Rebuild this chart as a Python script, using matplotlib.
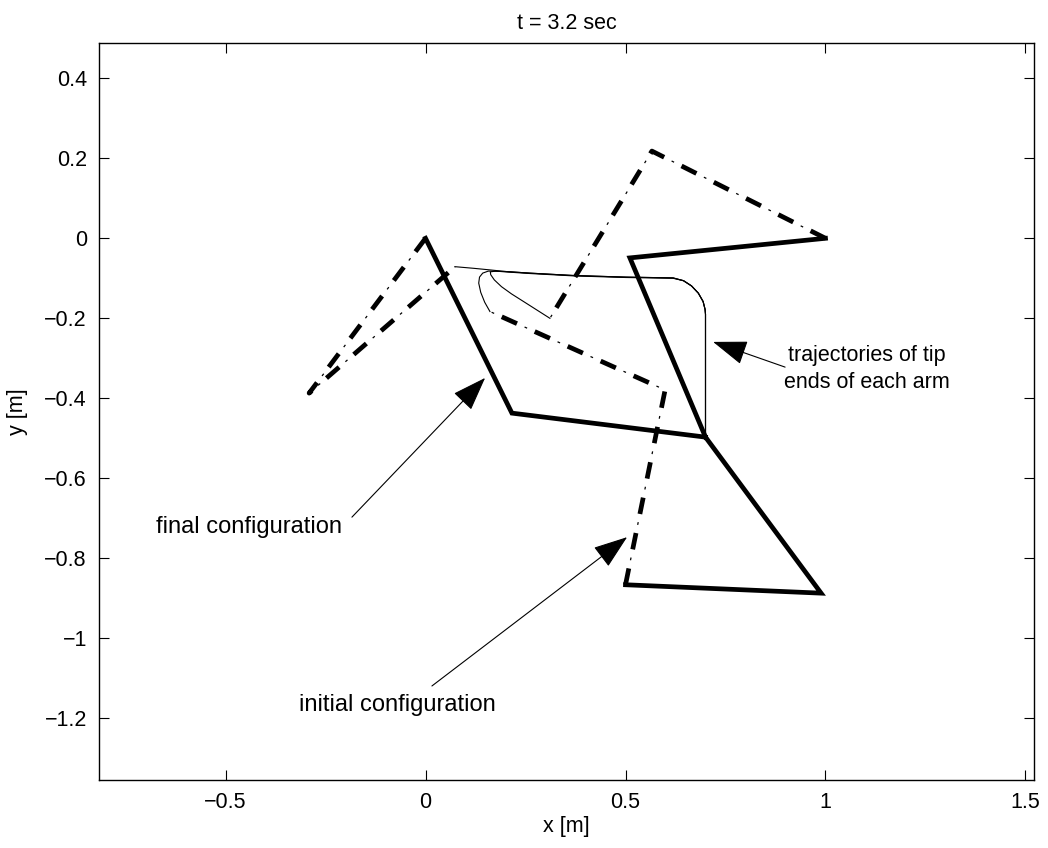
import numpy as np
import matplotlib
matplotlib.use('Agg')
import matplotlib.pyplot as plt
from matplotlib.ticker import FuncFormatter

# arm configurations (base, elbow, tip) for the three arms
init_x = [[0.0, -0.291, 0.074], [1.0, 0.566, 0.311], [0.5, 0.599, 0.161]]
init_y = [[0.0, -0.387, -0.071], [0.0, 0.218, -0.200], [-0.866, -0.379, -0.183]]
final_x = [[0.0, 0.216, 0.700], [1.0, 0.511, 0.700], [0.5, 0.989, 0.700]]
final_y = [[0.0, -0.437, -0.497], [0.0, -0.049, -0.497], [-0.866, -0.887, -0.497]]

# tip trajectories
traj1_x = [0.074, 0.12, 0.161, 0.20, 0.26, 0.37, 0.50, 0.619, 0.645, 0.665, 0.682, 0.694, 0.699, 0.700, 0.700]
traj1_y = [-0.071, -0.075, -0.079, -0.083, -0.087, -0.093, -0.097, -0.099, -0.106, -0.119, -0.137, -0.158, -0.178, -0.19, -0.497]
traj2_x = [0.311, 0.278, 0.245, 0.215, 0.190, 0.172, 0.163, 0.162, 0.175, 0.20, 0.26, 0.37, 0.50, 0.619, 0.645, 0.665, 0.682, 0.694, 0.699, 0.700, 0.700]
traj2_y = [-0.200, -0.179, -0.158, -0.139, -0.121, -0.104, -0.091, -0.084, -0.082, -0.084, -0.088, -0.094, -0.098, -0.100, -0.106, -0.119, -0.137, -0.158, -0.178, -0.19, -0.497]
traj3_x = [0.161, 0.148, 0.138, 0.133, 0.135, 0.143, 0.157, 0.20, 0.26, 0.37, 0.50, 0.619, 0.645, 0.665, 0.682, 0.694, 0.699, 0.700, 0.700]
traj3_y = [-0.183, -0.160, -0.135, -0.112, -0.097, -0.087, -0.082, -0.083, -0.087, -0.093, -0.097, -0.099, -0.106, -0.119, -0.137, -0.158, -0.178, -0.19, -0.497]

x_ticks = [-0.5, 0, 0.5, 1, 1.5]
y_ticks = [-1.2, -1, -0.8, -0.6, -0.4, -0.2, 0, 0.2, 0.4]

# annotations: text, text position, arrow tail, arrow head
notes = [
    ("trajectories of tip\nends of each arm", (1.104, -0.326), (0.899, -0.322), (0.719, -0.259)),
    ("final configuration", (-0.441, -0.722), (-0.184, -0.697), (0.149, -0.349)),
    ("initial configuration", (-0.071, -1.167), (0.016, -1.119), (0.504, -0.747)),
]
note_sizes = [15.5, 17, 17]


def fmt(v, pos):
    s = '%g' % v
    return s.replace('-', '\u2212')


def main():
    plt.rcParams['font.family'] = ['Liberation Sans', 'DejaVu Sans']
    plt.rcParams['font.size'] = 15.5
    plt.rcParams['lines.scale_dashes'] = False

    fig = plt.figure(figsize=(10.48, 8.48), dpi=100)
    ax = fig.add_axes([0.0948, 0.0802, 0.8921, 0.8695])

    # dash-dot: thick dashes + thin dots
    d, g, dot = 12.0, 6.0, 2.0
    P = d + 2 * g + dot
    for i in range(len(init_x)):
        ax.plot(init_x[i], init_y[i], color='k', lw=3.4,
                linestyle=(0, (d, P - d)), dash_capstyle='butt', solid_joinstyle='miter')
        ax.plot(init_x[i], init_y[i], color='k', lw=0.9,
                linestyle=(P - (d + g), (dot, P - dot)), dash_capstyle='butt')

    for tx, ty in [(traj1_x, traj1_y), (traj2_x, traj2_y), (traj3_x, traj3_y)]:
        ax.plot(tx, ty, color='k', lw=0.8)

    for i in range(len(final_x)):
        ax.plot(final_x[i], final_y[i], color='k', lw=3.4, solid_joinstyle='miter')

    for (txt, pos, tail, head), fs in zip(notes, note_sizes):
        ax.text(pos[0], pos[1], txt, ha='center', va='center', fontsize=fs, linespacing=1.35)
        ax.annotate('', xy=head, xytext=tail,
                    arrowprops=dict(arrowstyle='-|>,head_length=1.4,head_width=0.5',
                                    color='k', lw=0.8, shrinkA=0, shrinkB=0))

    ax.set_xlim(-0.8155, 1.522)
    ax.set_ylim(-1.354, 0.489)
    ax.set_xticks(x_ticks)
    ax.set_yticks(y_ticks)
    ax.xaxis.set_major_formatter(FuncFormatter(fmt))
    ax.yaxis.set_major_formatter(FuncFormatter(fmt))
    ax.tick_params(direction='in', length=7, width=0.8, top=True, right=True, pad=9)
    for sp in ax.spines.values():
        sp.set_linewidth(1.0)

    ax.set_xlabel('x [m]', labelpad=2)
    ax.set_ylabel('y [m]', labelpad=12)
    ax.set_title('t = 3.2 sec', fontsize=15.5, pad=10)

    fig.savefig('out.png', dpi=100)


if __name__ == "__main__":
    main()
